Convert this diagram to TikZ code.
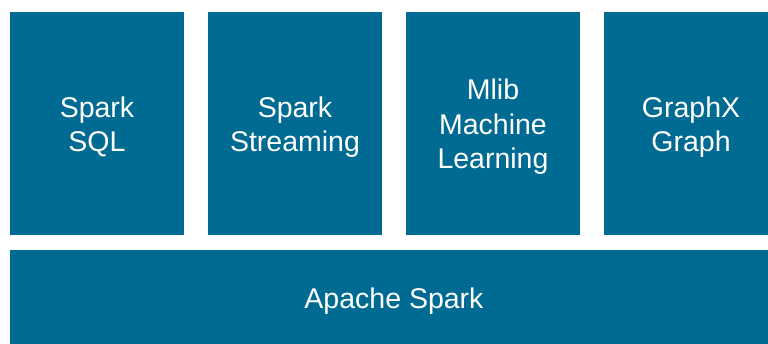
\documentclass[tikz,border=0pt]{standalone}
\usepackage{fontspec}
\setmainfont{Liberation Sans}
\definecolor{sparkblue}{RGB}{0,107,146}
\begin{document}
\begin{tikzpicture}[x=1pt,y=-1pt,
  blk/.style={fill=sparkblue,draw=none},
  lbl/.style={text=white,font=\fontsize{28.5}{34.5}\selectfont,align=center,inner sep=0pt}]
\useasboundingbox (0,0) rectangle (768,344);
\fill[white] (0,0) rectangle (768,344);
\path[blk] (10,12) rectangle (184,235);
\path[blk] (208,12) rectangle (382,235);
\path[blk] (406,12) rectangle (580,235);
\path[blk] (604,12) rectangle (768,235);
\path[blk] (10,250) rectangle (768,344);
\node[lbl] (sql) at (97,127) {Spark\\SQL};
\node[lbl] (str) at (295,127) {Spark\\Streaming};
\node[lbl] (ml) at (493,127) {Mlib\\Machine\\Learning};
\node[lbl] (gx) at (691,127) {GraphX\\Graph};
\node[lbl] (core) at (394,301) {Apache Spark};
\end{tikzpicture}
\end{document}
